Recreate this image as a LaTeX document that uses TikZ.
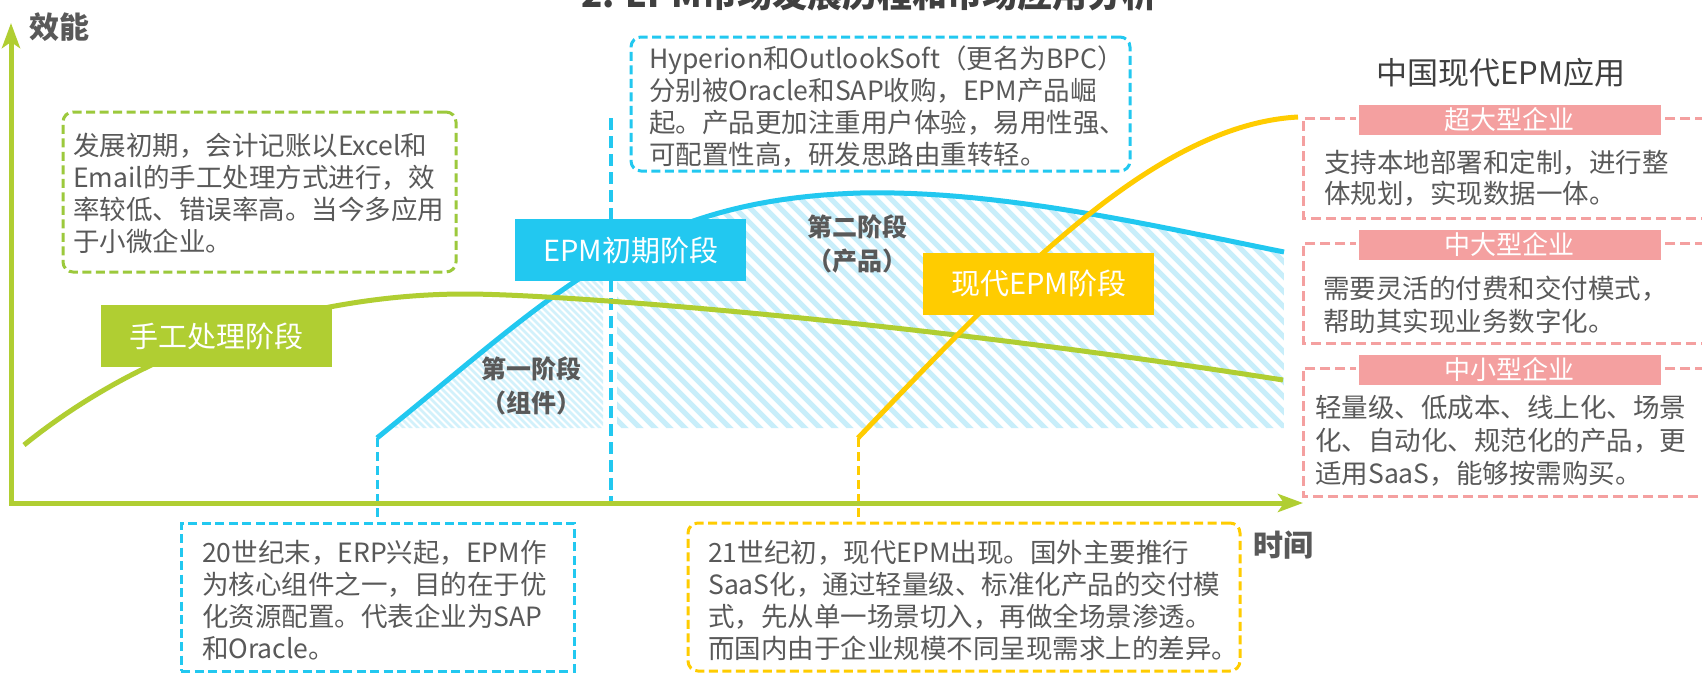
\documentclass[tikz,border=0pt]{standalone}
\usepackage{fontspec}
\setmainfont{Noto Sans CJK SC}
\usetikzlibrary{arrows.meta}
\definecolor{cgreen}{HTML}{B0CE32}
\definecolor{cgreenbox}{HTML}{9CC93C}
\definecolor{cblue}{HTML}{22C8F0}
\definecolor{chatchA}{HTML}{D2F1FB}
\definecolor{chatchB}{HTML}{C8EEFA}
\definecolor{cyellow}{HTML}{FFCC00}
\definecolor{cpink}{HTML}{F4A0A0}
\definecolor{txtgray}{HTML}{595959}
\definecolor{ctitle}{HTML}{404040}
\tikzset{
  body/.style={anchor=base west, inner sep=0pt, text=txtgray, font=\fontsize{26.5}{32}\selectfont},
  stagebox/.style={fill=#1, text=white, inner sep=0pt, minimum width=231pt, minimum height=62pt, font=\fontsize{29}{34}\selectfont},
  header/.style={fill=cpink, draw=white, line width=3pt, text=white, minimum width=305pt, minimum height=33pt, inner sep=0pt, font=\fontsize{26}{30}\selectfont},
  stagetext/.style={align=center, inner sep=0pt, text=txtgray, font=\bfseries\fontsize{25}{34}\selectfont},
  axislabel/.style={inner sep=0pt, text=txtgray, font=\bfseries\fontsize{30}{34}\selectfont},
  curve/.style={draw=#1, line width=5pt},
  frame/.style={draw=#1, line width=3pt, dash pattern=on 9pt off 4.5pt},
  pinkframe/.style={draw=cpink, line width=3pt, dash pattern=on 10pt off 5pt},
  guide/.style={draw=#1, line width=3pt, dash pattern=on 9pt off 5pt},
  axisarrow/.style={draw=cgreen, line width=5pt, {Stealth[length=25pt,width=18pt,inset=6pt]}-{Stealth[length=25pt,width=18pt,inset=6pt]}}
}
\begin{document}
\begin{tikzpicture}[x=1pt,y=-1pt]
\useasboundingbox (0,0) rectangle (1702,672);
\fill[white] (0,0) rectangle (1702,672);

% title (cut by the top edge)
\node[anchor=base west, inner sep=0pt, text=ctitle, font=\bfseries\fontsize{35}{40}\selectfont] (title) at (581,7) {2. EPM市场发展历程和市场应用分析};

% hatched areas under the blue curve
\begin{scope}
  \clip (377,438) .. controls (560,290) and (640,200) .. (860,193) .. controls (1000,190) and (1150,225) .. (1284,252) -- (1284,428) -- (377,428) -- cycle;
  \begin{scope}
    \clip (385,150) rectangle (603,428);
    \foreach \i in {0,...,62} \draw[chatchA, line width=2.5pt] (185+7*\i,230) -- ++(220,220);
  \end{scope}
  \begin{scope}
    \clip (617,150) rectangle (1284,428);
    \foreach \i in {0,...,66} \draw[chatchB, line width=5pt] (317+15*\i,150) -- ++(300,300);
  \end{scope}
\end{scope}

% coordinates
\coordinate (O) at (11,503);
\coordinate (ytip) at (11,23);
\coordinate (xtip) at (1303,503);
\coordinate (gstart) at (24,445);
\coordinate (gend) at (1283,380);
\coordinate (bstart) at (377,438);
\coordinate (bend) at (1284,252);
\coordinate (ystart) at (858,438);
\coordinate (yend) at (1298,117);
\coordinate (dtop) at (611,118);

% boxes
\node[draw=cgreenbox, line width=3pt, dash pattern=on 9pt off 4.5pt, rounded corners=10pt, minimum width=393pt, minimum height=160pt, inner sep=0pt] (gbox) at (259.5,192) {};
\node[draw=cblue, line width=3pt, dash pattern=on 9pt off 4.5pt, rounded corners=10pt, minimum width=499pt, minimum height=134pt, inner sep=0pt] (tbox) at (880.5,104) {};
\node[draw=cblue, line width=3pt, dash pattern=on 9pt off 4.5pt, minimum width=393pt, minimum height=148pt, inner sep=0pt] (bbox) at (377.5,597) {};
\node[draw=cyellow, line width=3pt, dash pattern=on 9pt off 4.5pt, rounded corners=10pt, minimum width=552pt, minimum height=148pt, inner sep=0pt] (ybox) at (964,597) {};

% dashed guides
\draw[guide=cblue] (bstart) -- (bbox.north -| bstart);
\draw[draw=cblue, line width=4.5pt, dash pattern=on 12pt off 6pt] (dtop) -- (dtop |- O);
\draw[guide=cyellow] (ystart) -- (ybox.north -| ystart);

% curves
\draw[curve=cblue] (bstart) .. controls (560,290) and (640,200) .. (860,193) .. controls (1000,190) and (1150,225) .. (bend);
\draw[curve=cgreen] (gstart) .. controls (160,335) and (330,294) .. (465,294) .. controls (560,294) and (900,320) .. (gend);
\draw[curve=cyellow] (ystart) .. controls (1000,290) and (1150,125) .. (yend);

% axes
\draw[axisarrow] (ytip) -- (O) -- (xtip);
\node[axislabel] (ylab) at (59,27) {效能};
\node[axislabel] (xlab) at (1283,545) {时间};

% stage labels
\node[stagebox=cgreen] (lab1) at (216.5,336) {手工处理阶段};
\node[stagebox=cblue] (lab2) at (630.5,250) {EPM初期阶段};
\node[stagebox=cyellow] (lab3) at (1038.5,283.5) {现代EPM阶段};

\node[stagetext] (st1) at (531,386) {第一阶段\\（组件）};
\node[stagetext] (st2) at (857,243.5) {第二阶段\\（产品）};

% texts
\node[body] (gtext) at (73,155) {\parbox[t]{600pt}{\raggedright 发展初期，会计记账以Excel和\\Email的手工处理方式进行，效\\率较低、错误率高。当今多应用\\于小微企业。}};
\node[body] (ttext) at (649,68) {\parbox[t]{600pt}{\raggedright Hyperion和OutlookSoft（更名为BPC）\\分别被Oracle和SAP收购，EPM产品崛\\起。产品更加注重用户体验，易用性强、\\可配置性高，研发思路由重转轻。}};
\node[body] (btext) at (202,562) {\parbox[t]{600pt}{\raggedright 20世纪末，ERP兴起，EPM作\\为核心组件之一，目的在于优\\化资源配置。代表企业为SAP\\和Oracle。}};
\node[body] (ytext) at (708,562) {\parbox[t]{600pt}{\raggedright 21世纪初，现代EPM出现。国外主要推行\\SaaS化，通过轻量级、标准化产品的交付模\\式，先从单一场景切入，再做全场景渗透。\\而国内由于企业规模不同呈现需求上的差异。}};

% right panel
\node[inner sep=0pt, text=ctitle, font=\fontsize{31}{36}\selectfont] (rtitle) at (1501,73) {中国现代EPM应用};

\draw[pinkframe] (1720,118) -| (1303,218) -- (1720,218);
\draw[pinkframe] (1720,243) -| (1303,343) -- (1720,343);
\draw[pinkframe] (1720,368) -| (1303,496) -- (1720,496);

\node[header] (h1) at (1509.5,119.5) {超大型企业};
\node[header] (h2) at (1509.5,244.5) {中大型企业};
\node[header] (h3) at (1509.5,369.5) {中小型企业};

\node[body, font=\fontsize{26.5}{31}\selectfont] (r1) at (1324,172) {\parbox[t]{600pt}{\raggedright 支持本地部署和定制，进行整\\体规划，实现数据一体。}};
\node[body, font=\fontsize{26.5}{33}\selectfont] (r2) at (1323,298) {\parbox[t]{600pt}{\raggedright 需要灵活的付费和交付模式，\\帮助其实现业务数字化。}};
\node[body, font=\fontsize{26.5}{33}\selectfont] (r3) at (1315,417) {\parbox[t]{600pt}{\raggedright 轻量级、低成本、线上化、场景\\化、自动化、规范化的产品，更\\适用SaaS，能够按需购买。}};
\end{tikzpicture}
\end{document}
